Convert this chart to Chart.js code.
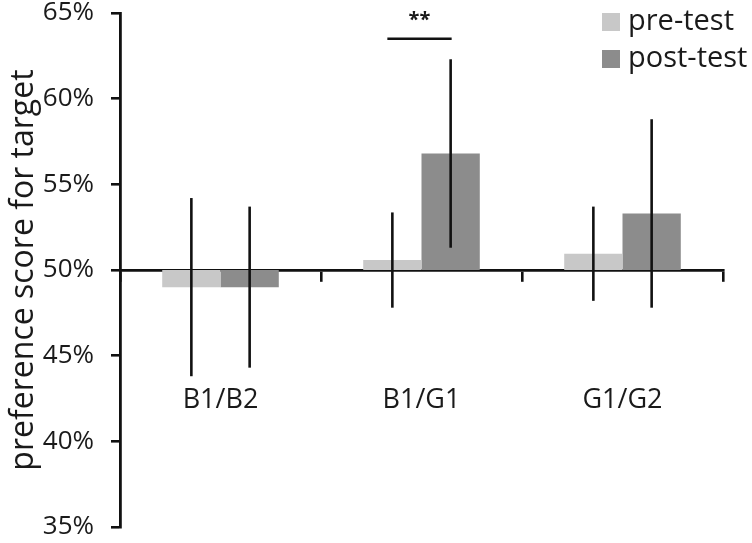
<!DOCTYPE html>
<html>
<head>
<meta charset="utf-8">
<script src="https://cdn.jsdelivr.net/npm/chart.js@4.4.1/dist/chart.umd.min.js"></script>
<style>
  html, body { margin: 0; padding: 0; background: #fff; }
  #wrap { width: 752px; height: 543px; position: relative; }
</style>
</head>
<body>
<div id="wrap"><canvas id="prefChart"></canvas></div>
<script>
// Data
const categories = ['B1/B2', 'B1/G1', 'G1/G2'];
const preTest = [49.0, 50.58, 50.95];
const postTest = [49.0, 56.8, 53.3];
const preErr = [5.2, 2.78, 2.75];
const postErr = [4.7, 5.5, 5.5];
const seriesNames = ['pre-test', 'post-test'];
const yTicks = [35, 40, 45, 50, 55, 60, 65];
const baseline = 50;
// significance marker: category index, y value, label
const sigIndex = 1;
const sigValue = 63.5;
const sigLabel = '**';

const colors = {
  pre: '#c8c8c8',
  post: '#8c8c8c',
  ink: '#111111',
  text: '#1a1a1a',
};
const FONT = "'Open Sans', sans-serif";

// error bars, significance bracket and legend
const extrasPlugin = {
  id: 'extras',
  afterDraw(chart) {
    const ctx = chart.ctx;
    const y = chart.scales.y;
    const errs = [preErr, postErr];
    const vals = [preTest, postTest];
    ctx.save();
    ctx.strokeStyle = colors.ink;
    ctx.lineWidth = 2.6;
    errs.forEach((err, di) => {
      chart.getDatasetMeta(di).data.forEach((bar, i) => {
        ctx.beginPath();
        ctx.moveTo(bar.x, y.getPixelForValue(vals[di][i] + err[i]));
        ctx.lineTo(bar.x, y.getPixelForValue(vals[di][i] - err[i]));
        ctx.stroke();
      });
    });

    // significance line + stars
    const a = chart.getDatasetMeta(0).data[sigIndex];
    const b = chart.getDatasetMeta(1).data[sigIndex];
    const sy = y.getPixelForValue(sigValue);
    ctx.lineWidth = 2.4;
    ctx.beginPath();
    ctx.moveTo(a.x - 5, sy);
    ctx.lineTo(b.x + 1, sy);
    ctx.stroke();
    ctx.fillStyle = colors.text;
    ctx.font = "bold 20px " + FONT;
    ctx.textAlign = 'center';
    ctx.textBaseline = 'middle';
    ctx.fillText(sigLabel, (a.x + b.x) / 2 - 2, sy - 18);

    // legend, top right
    const area = chart.chartArea;
    const lx = area.right - 121;
    chart.data.datasets.forEach((ds, i) => {
      const top = area.top + i * 37;
      ctx.fillStyle = ds.backgroundColor;
      ctx.fillRect(lx, top, 18, 18);
      ctx.fillStyle = colors.text;
      ctx.font = "29px " + FONT;
      ctx.textAlign = 'left';
      ctx.textBaseline = 'middle';
      ctx.fillText(ds.label, lx + 26, top + 9);
    });
    ctx.restore();
  }
};

new Chart(document.getElementById('prefChart'), {
  type: 'bar',
  data: {
    labels: categories,
    datasets: [
      {
        label: seriesNames[0],
        data: preTest.map(v => [baseline, v]),
        backgroundColor: colors.pre,
        borderWidth: 0,
      },
      {
        label: seriesNames[1],
        data: postTest.map(v => [baseline, v]),
        backgroundColor: colors.post,
        borderWidth: 0,
      }
    ]
  },
  options: {
    responsive: true,
    maintainAspectRatio: false,
    animation: false,
    categoryPercentage: 0.58,
    barPercentage: 1.0,
    layout: { padding: { top: 13, bottom: 16, right: 29, left: 0 } },
    plugins: {
      legend: { display: false },
      tooltip: { enabled: false }
    },
    scales: {
      x: {
        position: { y: baseline },
        z: 1,
        offset: true,
        afterFit: s => { s.paddingLeft = 0; s.paddingRight = 0; },
        grid: {
          offset: true,
          drawOnChartArea: false,
          drawTicks: true,
          tickLength: 10,
          color: colors.ink,
          lineWidth: 2.6,
        },
        border: { display: true, color: colors.ink, width: 2.8 },
        ticks: {
          color: colors.text,
          font: { family: FONT, size: 27 },
          padding: 104,
        }
      },
      y: {
        min: 35,
        max: 65,
        afterFit: s => {
          s.width = 120;
          s.paddingTop = 0;
          s.paddingBottom = 0;
        },
        afterBuildTicks: s => { s.ticks = yTicks.map(v => ({ value: v })); },
        grid: {
          drawOnChartArea: false,
          drawTicks: true,
          tickLength: 9,
          color: colors.ink,
          lineWidth: 2.6,
        },
        border: { display: true, color: colors.ink, width: 2.8 },
        ticks: {
          color: colors.text,
          font: { family: FONT, size: 26, lineHeight: 1 },
          padding: 17,
          callback: v => v + '%'
        },
        title: {
          display: true,
          text: 'preference score for target',
          color: colors.text,
          font: { family: FONT, size: 32 },
          padding: { top: 5, bottom: 0 }
        }
      }
    }
  },
  plugins: [extrasPlugin]
});
</script>
</body>
</html>
